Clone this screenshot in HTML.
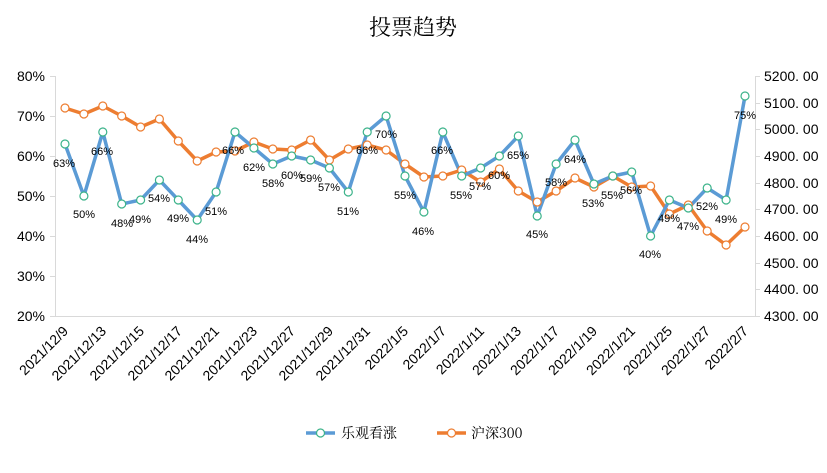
<!DOCTYPE html>
<html><head><meta charset="utf-8"><style>
html,body{margin:0;padding:0;background:#fff;}
svg{display:block;font-family:"Liberation Sans","Noto Sans CJK SC",sans-serif;}
</style></head><body>
<svg width="827" height="473" viewBox="0 0 827 473" xmlns="http://www.w3.org/2000/svg">
<rect width="827" height="473" fill="#fff"/>
<text x="413" y="35" text-anchor="middle" font-family="'Noto Serif CJK SC',serif" font-size="22" fill="#000">投票趋势</text>
<g stroke="#d9d9d9" stroke-width="1" fill="none">
<line x1="55.5" y1="76" x2="55.5" y2="316"/>
<line x1="755.5" y1="76" x2="755.5" y2="316"/>
<line x1="55" y1="316.5" x2="755" y2="316.5"/>
<path d="M50 76.5h5M50 116.5h5M50 156.5h5M50 196.5h5M50 236.5h5M50 276.5h5M50 316.5h5"/>
<path d="M755 76.5h5M755 103.5h5M755 129.5h5M755 156.5h5M755 183.5h5M755 209.5h5M755 236.5h5M755 263.5h5M755 289.5h5M755 316.5h5"/>
</g>
<g font-size="14" fill="#000" text-anchor="end">
<text x="45" y="81">80%</text><text x="45" y="121">70%</text><text x="45" y="161">60%</text><text x="45" y="201">50%</text><text x="45" y="241">40%</text><text x="45" y="281">30%</text><text x="45" y="321">20%</text>
</g>
<g font-size="14" fill="#000">
<text x="764" y="81">5200. 00</text><text x="764" y="108">5100. 00</text><text x="764" y="134">5000. 00</text><text x="764" y="161">4900. 00</text><text x="764" y="188">4800. 00</text><text x="764" y="214">4700. 00</text><text x="764" y="241">4600. 00</text><text x="764" y="268">4500. 00</text><text x="764" y="294">4400. 00</text><text x="764" y="321">4300. 00</text>
</g>
<g font-size="14" fill="#000" text-anchor="end">
<text transform="translate(69,332) rotate(-45)">2021/12/9</text>
<text transform="translate(107,332) rotate(-45)">2021/12/13</text>
<text transform="translate(145,332) rotate(-45)">2021/12/15</text>
<text transform="translate(183,332) rotate(-45)">2021/12/17</text>
<text transform="translate(220,332) rotate(-45)">2021/12/21</text>
<text transform="translate(258,332) rotate(-45)">2021/12/23</text>
<text transform="translate(296,332) rotate(-45)">2021/12/27</text>
<text transform="translate(334,332) rotate(-45)">2021/12/29</text>
<text transform="translate(371,332) rotate(-45)">2021/12/31</text>
<text transform="translate(409,332) rotate(-45)">2022/1/5</text>
<text transform="translate(447,332) rotate(-45)">2022/1/7</text>
<text transform="translate(485,332) rotate(-45)">2022/1/11</text>
<text transform="translate(522,332) rotate(-45)">2022/1/13</text>
<text transform="translate(560,332) rotate(-45)">2022/1/17</text>
<text transform="translate(598,332) rotate(-45)">2022/1/19</text>
<text transform="translate(636,332) rotate(-45)">2022/1/21</text>
<text transform="translate(673,332) rotate(-45)">2022/1/25</text>
<text transform="translate(711,332) rotate(-45)">2022/1/27</text>
<text transform="translate(749,332) rotate(-45)">2022/2/7</text>
</g>
<polyline fill="none" stroke="#ed7d31" stroke-width="3.5" stroke-linejoin="round" points="65,108 83.9,114 102.8,106 121.7,116 140.6,127 159.4,119 178.3,141 197.2,161 216.1,152 235,151 253.9,142 272.8,149 291.7,150 310.6,140 329.4,160 348.3,149 367.2,145 386.1,150 405,164 423.9,177 442.8,176 461.7,170 480.6,182 499.4,169 518.3,191 537.2,202 556.1,191 575,178 593.9,187 612.8,176 631.7,187 650.6,186 669.4,214 688.3,205 707.2,231 726.1,245 745,227"/>
<polyline fill="none" stroke="#5b9bd5" stroke-width="3.5" stroke-linejoin="round" points="65,144 83.9,196 102.8,132 121.7,204 140.6,200 159.4,180 178.3,200 197.2,220 216.1,192 235,132 253.9,148 272.8,164 291.7,156 310.6,160 329.4,168 348.3,192 367.2,132 386.1,116 405,176 423.9,212 442.8,132 461.7,176 480.6,168 499.4,156 518.3,136 537.2,216 556.1,164 575,140 593.9,184 612.8,176 631.7,172 650.6,236 669.4,200 688.3,208 707.2,188 726.1,200 745,96"/>
<g fill="#fff" stroke="#ed7d31" stroke-width="1.2">
<circle cx="65" cy="108" r="4"/><circle cx="83.9" cy="114" r="4"/><circle cx="102.8" cy="106" r="4"/><circle cx="121.7" cy="116" r="4"/><circle cx="140.6" cy="127" r="4"/><circle cx="159.4" cy="119" r="4"/><circle cx="178.3" cy="141" r="4"/><circle cx="197.2" cy="161" r="4"/><circle cx="216.1" cy="152" r="4"/><circle cx="235" cy="151" r="4"/><circle cx="253.9" cy="142" r="4"/><circle cx="272.8" cy="149" r="4"/><circle cx="291.7" cy="150" r="4"/><circle cx="310.6" cy="140" r="4"/><circle cx="329.4" cy="160" r="4"/><circle cx="348.3" cy="149" r="4"/><circle cx="367.2" cy="145" r="4"/><circle cx="386.1" cy="150" r="4"/><circle cx="405" cy="164" r="4"/><circle cx="423.9" cy="177" r="4"/><circle cx="442.8" cy="176" r="4"/><circle cx="461.7" cy="170" r="4"/><circle cx="480.6" cy="182" r="4"/><circle cx="499.4" cy="169" r="4"/><circle cx="518.3" cy="191" r="4"/><circle cx="537.2" cy="202" r="4"/><circle cx="556.1" cy="191" r="4"/><circle cx="575" cy="178" r="4"/><circle cx="593.9" cy="187" r="4"/><circle cx="612.8" cy="176" r="4"/><circle cx="631.7" cy="187" r="4"/><circle cx="650.6" cy="186" r="4"/><circle cx="669.4" cy="214" r="4"/><circle cx="688.3" cy="205" r="4"/><circle cx="707.2" cy="231" r="4"/><circle cx="726.1" cy="245" r="4"/><circle cx="745" cy="227" r="4"/>
</g>
<g fill="#fff" stroke="#3cb38a" stroke-width="1.2">
<circle cx="65" cy="144" r="4"/><circle cx="83.9" cy="196" r="4"/><circle cx="102.8" cy="132" r="4"/><circle cx="121.7" cy="204" r="4"/><circle cx="140.6" cy="200" r="4"/><circle cx="159.4" cy="180" r="4"/><circle cx="178.3" cy="200" r="4"/><circle cx="197.2" cy="220" r="4"/><circle cx="216.1" cy="192" r="4"/><circle cx="235" cy="132" r="4"/><circle cx="253.9" cy="148" r="4"/><circle cx="272.8" cy="164" r="4"/><circle cx="291.7" cy="156" r="4"/><circle cx="310.6" cy="160" r="4"/><circle cx="329.4" cy="168" r="4"/><circle cx="348.3" cy="192" r="4"/><circle cx="367.2" cy="132" r="4"/><circle cx="386.1" cy="116" r="4"/><circle cx="405" cy="176" r="4"/><circle cx="423.9" cy="212" r="4"/><circle cx="442.8" cy="132" r="4"/><circle cx="461.7" cy="176" r="4"/><circle cx="480.6" cy="168" r="4"/><circle cx="499.4" cy="156" r="4"/><circle cx="518.3" cy="136" r="4"/><circle cx="537.2" cy="216" r="4"/><circle cx="556.1" cy="164" r="4"/><circle cx="575" cy="140" r="4"/><circle cx="593.9" cy="184" r="4"/><circle cx="612.8" cy="176" r="4"/><circle cx="631.7" cy="172" r="4"/><circle cx="650.6" cy="236" r="4"/><circle cx="669.4" cy="200" r="4"/><circle cx="688.3" cy="208" r="4"/><circle cx="707.2" cy="188" r="4"/><circle cx="726.1" cy="200" r="4"/><circle cx="745" cy="96" r="4"/>
</g>
<g font-size="11" fill="#000" text-anchor="middle">
<text x="64" y="167">63%</text><text x="84" y="218">50%</text><text x="102" y="155">66%</text><text x="122" y="227">48%</text><text x="140" y="223">49%</text><text x="159" y="202">54%</text><text x="178" y="222">49%</text><text x="197" y="243">44%</text><text x="216" y="215">51%</text><text x="233" y="154">66%</text><text x="254" y="171">62%</text><text x="273" y="187">58%</text><text x="292" y="179">60%</text><text x="311" y="182">59%</text><text x="329" y="191">57%</text><text x="348" y="215">51%</text><text x="367" y="154">66%</text><text x="386" y="138">70%</text><text x="405" y="199">55%</text><text x="423" y="235">46%</text><text x="442" y="154">66%</text><text x="461" y="199">55%</text><text x="480" y="190">57%</text><text x="499" y="179">60%</text><text x="518" y="159">65%</text><text x="537" y="238">45%</text><text x="556" y="186">58%</text><text x="575" y="163">64%</text><text x="593" y="207">53%</text><text x="612" y="199">55%</text><text x="631" y="194">56%</text><text x="650" y="258">40%</text><text x="669" y="222">49%</text><text x="688" y="230">47%</text><text x="707" y="210">52%</text><text x="726" y="223">49%</text><text x="745" y="119">75%</text>
</g>
<line x1="306" y1="433" x2="335" y2="433" stroke="#5b9bd5" stroke-width="3.5"/>
<circle cx="320.5" cy="433" r="4" fill="#fff" stroke="#3cb38a" stroke-width="1.2"/>
<text x="341" y="438" font-size="14" font-family="'Noto Serif CJK SC',serif">乐观看涨</text>
<line x1="437" y1="433" x2="466" y2="433" stroke="#ed7d31" stroke-width="3.5"/>
<circle cx="451.5" cy="433" r="4" fill="#fff" stroke="#ed7d31" stroke-width="1.2"/>
<text x="471" y="438" font-size="14" font-family="'Noto Serif CJK SC',serif">沪深300</text>
</svg>
</body></html>
